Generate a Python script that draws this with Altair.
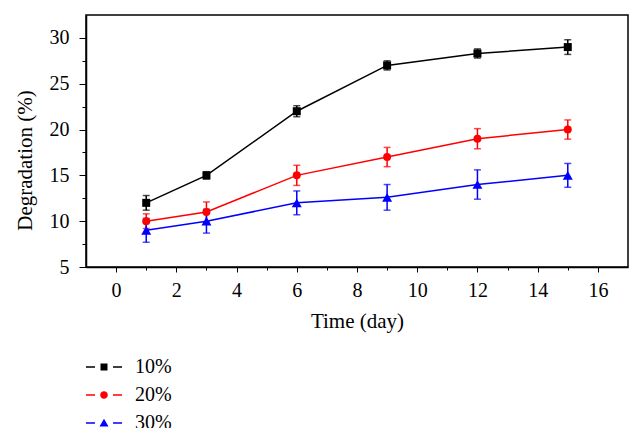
import altair as alt
import pandas as pd

# ---- data ----
days = [1, 3, 6, 9, 12, 15]
series = ["10%", "20%", "30%"]
deg_10 = [12.0, 15.0, 22.0, 27.0, 28.3, 29.0]
err_10 = [0.8, 0.4, 0.6, 0.5, 0.5, 0.8]
deg_20 = [10.0, 11.0, 15.0, 17.0, 19.0, 20.0]
err_20 = [0.8, 1.1, 1.1, 1.05, 1.1, 1.05]
deg_30 = [9.0, 10.0, 12.0, 12.6, 14.0, 15.0]
err_30 = [1.3, 1.3, 1.3, 1.4, 1.6, 1.3]

colors = ["#000000", "#ff0000", "#0000ff"]
marker_shapes = ["square", "circle", "triangle-up"]
marker_sizes = [64, 64, 100]

x_ticks = [0, 2, 4, 6, 8, 10, 12, 14, 16]
x_minor = [1, 3, 5, 7, 9, 11, 13, 15]
y_ticks = [5, 10, 15, 20, 25, 30]
y_minor = [7.5, 12.5, 17.5, 22.5, 27.5]

# legend symbols: dash - marker - dash
dash = "M-1.8,-0.075H-0.9V0.075H-1.8Z M0.9,-0.075H1.8V0.075H0.9Z "
legend_paths = [
    dash + "M-0.35,-0.35H0.35V0.35H-0.35Z",
    dash + "M0.38,0A0.38,0.38 0 1,1 -0.38,0A0.38,0.38 0 1,1 0.38,0Z",
    dash + "M0,-0.42L0.45,0.36L-0.45,0.36Z",
]

rows = []
for s, vals, errs in zip(series, [deg_10, deg_20, deg_30], [err_10, err_20, err_30]):
    for d, v, e in zip(days, vals, errs):
        rows.append({"series": s, "day": d, "value": v, "lo": v - e, "hi": v + e})
df = pd.DataFrame(rows)

FONT = "Liberation Serif"

xs = alt.Scale(domain=[-1, 17], nice=False, zero=False)
ys = alt.Scale(domain=[5, 32.5], nice=False, zero=False)
cs = alt.Scale(domain=series, range=colors)

main_x = alt.Axis(values=x_ticks, title="Time (day)", orient="bottom", grid=False,
                  tickSize=5, tickWidth=1, tickColor="black",
                  domainColor="black", domainWidth=1.5,
                  labelFont=FONT, labelFontSize=20, labelColor="black", labelPadding=8,
                  labelOverlap=False, labelFlush=False,
                  titleFont=FONT, titleFontSize=21, titleFontWeight="normal",
                  titleColor="black", titlePadding=10)
main_y = alt.Axis(values=y_ticks, title="Degradation (%)", orient="left", grid=False,
                  tickSize=7, tickWidth=1, tickColor="black",
                  domainColor="black", domainWidth=1.5,
                  labelFont=FONT, labelFontSize=20, labelColor="black", labelPadding=10,
                  labelOverlap=False, labelFlush=False,
                  titleFont=FONT, titleFontSize=21, titleFontWeight="normal",
                  titleColor="black", titlePadding=14, titleY=145)
minor_x = alt.Axis(values=x_minor, title=None, orient="bottom", grid=False, labels=False,
                   domain=False, tickSize=3, tickWidth=1, tickColor="black")
minor_y = alt.Axis(values=y_minor, title=None, orient="left", grid=False, labels=False,
                   domain=False, tickSize=4, tickWidth=1, tickColor="black")

leg = alt.Legend(title=None, orient="none", legendX=8, legendY=342, symbolSize=400,
                 symbolStrokeWidth=0, symbolOpacity=1, labelFont=FONT, labelFontSize=20,
                 labelColor="black", labelOffset=21, rowPadding=8, padding=0,
                 direction="vertical")

base = alt.Chart(df)

lines = base.mark_line(strokeWidth=1.5).encode(
    x=alt.X("day:Q", scale=xs, axis=main_x),
    y=alt.Y("value:Q", scale=ys, axis=main_y),
    color=alt.Color("series:N", scale=cs, legend=None),
)

rules = base.mark_rule(strokeWidth=1.5).encode(
    x=alt.X("day:Q", scale=xs, axis=None),
    y=alt.Y("lo:Q", scale=ys, axis=None),
    y2="hi:Q",
    color=alt.Color("series:N", scale=cs, legend=None),
)
cap_hi = base.mark_tick(orient="horizontal", size=7, thickness=1.5).encode(
    x=alt.X("day:Q", scale=xs, axis=None),
    y=alt.Y("hi:Q", scale=ys, axis=None),
    color=alt.Color("series:N", scale=cs, legend=None),
)
cap_lo = base.mark_tick(orient="horizontal", size=7, thickness=1.5).encode(
    x=alt.X("day:Q", scale=xs, axis=None),
    y=alt.Y("lo:Q", scale=ys, axis=None),
    color=alt.Color("series:N", scale=cs, legend=None),
)

point_layers = []
for s, shp, sz in zip(series, marker_shapes, marker_sizes):
    point_layers.append(
        base.transform_filter(alt.datum.series == s)
        .mark_point(filled=True, shape=shp, size=sz, opacity=1, strokeWidth=0)
        .encode(
            x=alt.X("day:Q", scale=xs, axis=None),
            y=alt.Y("value:Q", scale=ys, axis=None),
            color=alt.Color("series:N", scale=cs, legend=None),
        )
    )

legend_layer = base.mark_point(filled=True, opacity=0).encode(
    x=alt.X("day:Q", scale=xs, axis=minor_x),
    y=alt.Y("value:Q", scale=ys, axis=minor_y),
    color=alt.Color("series:N", scale=cs, legend=leg),
    shape=alt.Shape("series:N", scale=alt.Scale(domain=series, range=legend_paths), legend=leg),
)

chart = alt.layer(
    rules, cap_hi, cap_lo, lines, *point_layers, legend_layer
).resolve_axis(
    x="independent", y="independent"
).resolve_scale(
    color="independent", shape="independent"
).properties(
    width=542,
    height=252,
    autosize=alt.AutoSizeParams(type="none"),
    padding={"left": 78, "top": 7, "right": 7, "bottom": 161},
).configure(
    background="white", font=FONT
).configure_view(
    stroke="black", strokeWidth=1.5
)

chart.save("out.html", embed_options={"renderer": "svg", "actions": False})
